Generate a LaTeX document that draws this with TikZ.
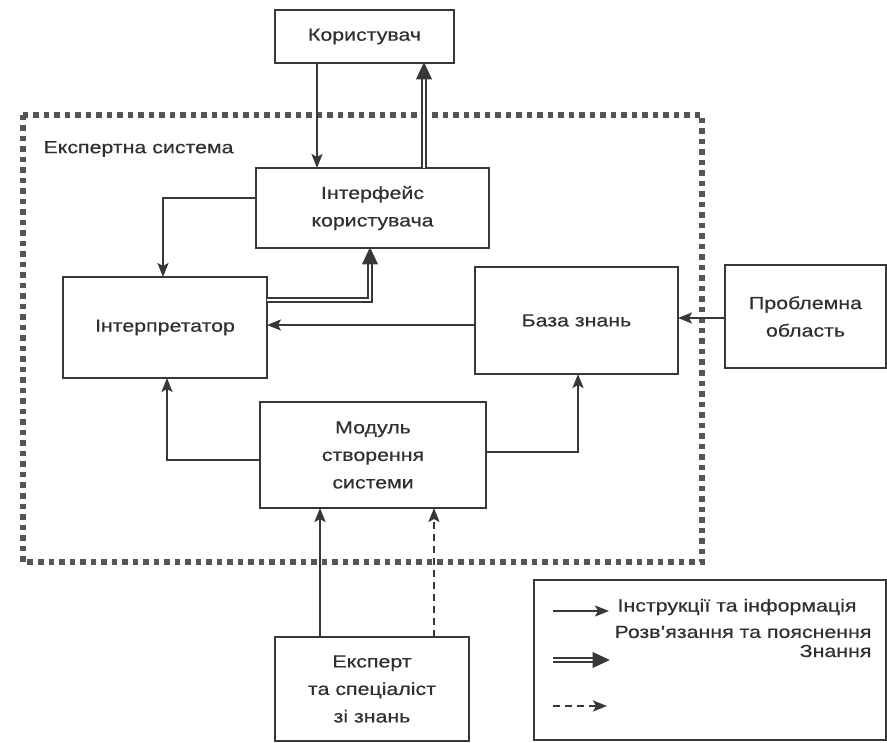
\documentclass[tikz,border=0pt]{standalone}
\usepackage{fontspec}
\setmainfont[FakeStretch=1.22,FakeBold=0.5]{Liberation Sans}
\usetikzlibrary{arrows.meta}
\definecolor{ink}{HTML}{383838}
\definecolor{txt}{HTML}{303030}
\definecolor{dots}{HTML}{555555}
\begin{document}
\begin{tikzpicture}[x=1pt,y=-1pt,
  every node/.style={text=txt, font=\fontsize{17.5}{27.5}\selectfont},
  blk/.style={draw=ink, line width=1.5pt, inner sep=0pt, outer sep=0pt, align=center},
  flow/.style={draw=ink, line width=1.5pt, -{Stealth[length=14pt,width=11pt,inset=3pt]}},
  know/.style={draw=ink, line width=1.3pt, double=white, double distance=2.8pt, shorten >=12pt},
  tipfill/.style={fill=ink, draw=ink, line width=0.6pt, line join=miter},
  sol/.style={flow, dashed, dash pattern=on 7pt off 5pt},
  frame/.style={draw=dots, line width=5.5pt, dash pattern=on 5.5pt off 5pt}]
\useasboundingbox (0,0) rectangle (887,743);
\fill[white] (0,0) rectangle (887,743);

% expert-system boundary
\draw[frame] (23,115) rectangle (702,562);
\node[anchor=west] (title) at (40,149) {Експертна система};

% blocks
\node[blk, minimum width=179pt, minimum height=53pt] (user) at (364.5,36.5) {Користувач};
\node[blk, minimum width=233pt, minimum height=80pt] (iface) at (372.5,208) {Інтерфейс\\користувача};
\node[blk, minimum width=204pt, minimum height=101pt] (interp) at (165,327.5) {Інтерпретатор};
\node[blk, minimum width=203pt, minimum height=107pt] (kb) at (576.5,320.5) {База знань};
\node[blk, minimum width=161pt, minimum height=103pt] (prob) at (805.5,316.5) {Проблемна\\область};
\node[blk, minimum width=226pt, minimum height=106pt] (mod) at (373,455) {Модуль\\створення\\системи};
\node[blk, minimum width=194pt, minimum height=104pt] (expert) at (372,689) {Експерт\\та спеціаліст\\зі знань};

% connectors: instructions / information
\draw[flow] (317,0 |- user.south) -- (317,0 |- iface.north);
\draw[flow] (iface.west |- 0,198) -| (163,0 |- interp.north);
\draw[flow] (kb.west |- 0,325) -- (interp.east |- 0,325);
\draw[flow] (prob.west |- 0,318) -- (kb.east |- 0,318);
\draw[flow] (mod.west |- 0,460) -| (167,0 |- interp.south);
\draw[flow] (mod.east |- 0,452) -| (578,0 |- kb.south);
\draw[flow] (320,0 |- expert.north) -- (320,0 |- mod.south);
% connectors: solutions / explanations (double lines with filled heads)
\draw[know] (424,0 |- iface.north) -- (424,0 |- user.south);
\fill[tipfill] (424,0 |- user.south) -- ++(-7.5,16) -- ++(15,0) -- cycle;
\draw[know] (interp.east |- 0,300) -| (370,0 |- iface.south);
\fill[tipfill] (370,0 |- iface.south) -- ++(-7.5,16) -- ++(15,0) -- cycle;
% connector: knowledge
\draw[sol] (434,0 |- expert.north) -- (434,0 |- mod.south);

% legend
\node[blk, minimum width=352pt, minimum height=160pt] (legend) at (710,660) {};
\coordinate (l1a) at (553,611); \coordinate (l1b) at (609,611);
\coordinate (l2a) at (553,660); \coordinate (l2b) at (609,660);
\coordinate (l3a) at (553,706); \coordinate (l3b) at (607,706);
\draw[flow] (l1a) -- (l1b);
\draw[know] (l2a) -- (l2b);
\fill[tipfill] (l2b) -- ++(-16,-7.5) -- ++(0,15) -- cycle;
\draw[sol] (l3a) -- (l3b);
\node[anchor=west] (lt1) at (614,607) {Інструкції та інформація};
\node[anchor=east] (lt2) at (875,632) {Розв'язання та пояснення};
\node[anchor=east] (lt3) at (875,651) {Знання};
\end{tikzpicture}
\end{document}
